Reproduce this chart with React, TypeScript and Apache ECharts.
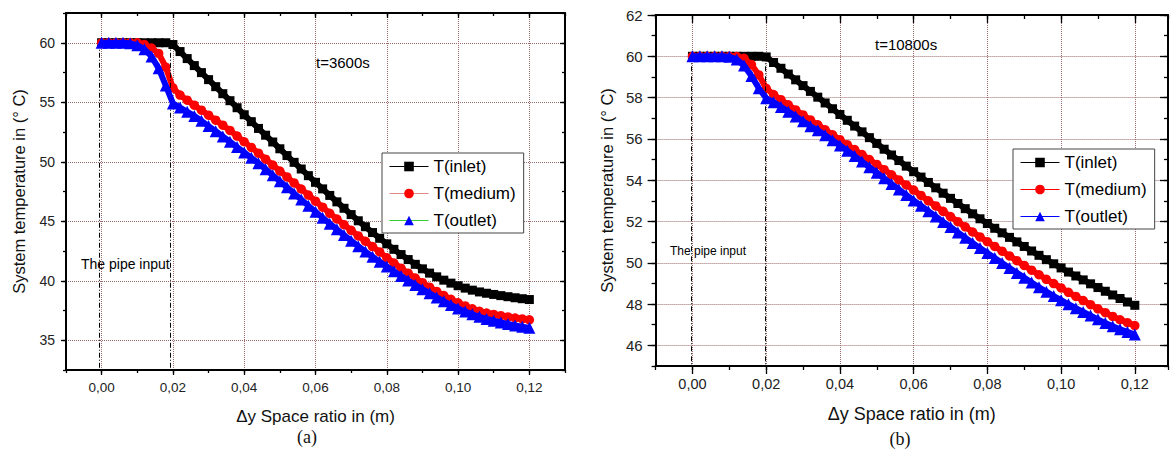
import React, { useEffect, useRef } from 'react';
import * as echarts from 'echarts';

// ---------- data ----------
const X = [0, 0.002, 0.004, 0.006, 0.008, 0.01, 0.012, 0.014, 0.016, 0.018, 0.02, 0.022, 0.024, 0.026, 0.028, 0.03, 0.032, 0.034, 0.036, 0.038, 0.04, 0.042, 0.044, 0.046, 0.048, 0.05, 0.052, 0.054, 0.056, 0.058, 0.06, 0.062, 0.064, 0.066, 0.068, 0.07, 0.072, 0.074, 0.076, 0.078, 0.08, 0.082, 0.084, 0.086, 0.088, 0.09, 0.092, 0.094, 0.096, 0.098, 0.1, 0.102, 0.104, 0.106, 0.108, 0.11, 0.112, 0.114, 0.116, 0.118, 0.12];

// (a) t = 3600 s
const INLET_A = [60, 60, 60, 60, 60, 60, 60, 60, 60, 60, 59.85, 59.26, 58.67, 58.08, 57.49, 56.9, 56.31, 55.72, 55.13, 54.54, 53.95, 53.37, 52.8, 52.23, 51.66, 51.09, 50.52, 49.95, 49.39, 48.83, 48.27, 47.72, 47.17, 46.63, 46.09, 45.56, 45.04, 44.54, 44.05, 43.57, 43.1, 42.64, 42.2, 41.78, 41.38, 41.0, 40.64, 40.33, 40.05, 39.8, 39.58, 39.38, 39.21, 39.06, 38.95, 38.85, 38.75, 38.66, 38.57, 38.49, 38.42];
const MEDIUM_A = [60, 60, 60, 60, 60, 60, 59.85, 59.55, 59.1, 57.95, 56.2, 55.6, 55.17, 54.75, 54.33, 53.91, 53.49, 53.07, 52.63, 52.16, 51.68, 51.2, 50.72, 50.22, 49.72, 49.22, 48.72, 48.22, 47.71, 47.2, 46.69, 46.18, 45.67, 45.19, 44.71, 44.24, 43.77, 43.32, 42.87, 42.42, 41.93, 41.49, 41.06, 40.64, 40.23, 39.84, 39.46, 39.1, 38.76, 38.44, 38.15, 37.88, 37.64, 37.43, 37.29, 37.17, 37.06, 36.96, 36.87, 36.79, 36.72];
const OUTLET_A = [60, 60, 60, 60, 59.95, 59.8, 59.45, 58.85, 57.85, 56.4, 54.9, 54.55, 54.2, 53.85, 53.44, 53.0, 52.56, 52.12, 51.68, 51.23, 50.78, 50.33, 49.88, 49.38, 48.87, 48.36, 47.85, 47.34, 46.82, 46.31, 45.8, 45.29, 44.8, 44.32, 43.84, 43.37, 42.9, 42.45, 42.02, 41.6, 41.19, 40.79, 40.4, 40.02, 39.65, 39.29, 38.95, 38.6, 38.27, 37.96, 37.67, 37.41, 37.18, 36.97, 36.79, 36.64, 36.5, 36.37, 36.25, 36.14, 36.04];

// (b) t = 10800 s
const INLET_B = [60, 60, 60, 60, 60, 60, 60, 60, 60, 60, 59.97, 59.7, 59.42, 59.14, 58.86, 58.58, 58.3, 58.02, 57.74, 57.46, 57.18, 56.9, 56.62, 56.34, 56.06, 55.78, 55.5, 55.22, 54.95, 54.68, 54.41, 54.15, 53.89, 53.63, 53.37, 53.12, 52.87, 52.62, 52.37, 52.13, 51.9, 51.67, 51.45, 51.23, 51.01, 50.79, 50.57, 50.36, 50.15, 49.95, 49.75, 49.55, 49.36, 49.17, 48.98, 48.8, 48.62, 48.44, 48.27, 48.1, 47.94];
const MEDIUM_B = [60, 60, 60, 60, 60, 60, 59.99, 59.9, 59.6, 59.1, 58.45, 58.15, 57.9, 57.65, 57.4, 57.16, 56.92, 56.68, 56.44, 56.2, 55.96, 55.72, 55.48, 55.24, 55.0, 54.76, 54.51, 54.26, 54.01, 53.77, 53.52, 53.26, 53.0, 52.75, 52.49, 52.24, 51.99, 51.74, 51.49, 51.25, 51.02, 50.79, 50.56, 50.33, 50.1, 49.87, 49.64, 49.42, 49.2, 48.99, 48.78, 48.57, 48.37, 48.17, 47.97, 47.77, 47.58, 47.4, 47.24, 47.1, 46.96];
const OUTLET_B = [60, 60, 60, 60, 60, 59.98, 59.85, 59.55, 59.05, 58.45, 57.97, 57.78, 57.55, 57.32, 57.09, 56.85, 56.61, 56.42, 56.18, 55.93, 55.68, 55.43, 55.17, 54.9, 54.63, 54.36, 54.09, 53.82, 53.55, 53.28, 53.02, 52.76, 52.5, 52.24, 51.98, 51.73, 51.47, 51.21, 50.96, 50.71, 50.47, 50.23, 49.99, 49.75, 49.51, 49.28, 49.04, 48.81, 48.6, 48.39, 48.19, 47.99, 47.8, 47.62, 47.44, 47.26, 47.08, 46.92, 46.78, 46.65, 46.52];

const SERIES_NAMES = ['T(inlet)', 'T(medium)', 'T(outlet)'];
const X_MAJOR = [0, 0.02, 0.04, 0.06, 0.08, 0.1, 0.12];
const Y_MAJOR_A = [35, 40, 45, 50, 55, 60];
const Y_MAJOR_B = [46, 48, 50, 52, 54, 56, 58, 60, 62];
const PIPE_MARKS_A = [-0.0008, 0.0193];
const PIPE_MARKS_B = [-0.0004, 0.0197];
const X_TITLE = '\u0394y Space ratio in (m)';
const Y_TITLE = 'System temperature in (\u00b0 C)';

// ---------- styles / layout ----------
const SANS = "'Liberation Sans', Arial, sans-serif";
const SERIF = "'Liberation Serif', 'Times New Roman', serif";
const MARKER_COLORS = ['#000000', '#ff0000', '#0000ff'];
const SYMBOLS = ['rect', 'circle', 'triangle'];
const SYMBOL_SIZES = [9, 9.5, 12];
const GRID_COLOR = '#9a6a6a';

const PANEL_A = {
  series: [INLET_A, MEDIUM_A, OUTLET_A],
  legendLines: ['#000000', '#e08a8a', '#33cc33'],
  yMajor: Y_MAJOR_A,
  pipeMarks: PIPE_MARKS_A,
  xMin: -0.01, xMax: 0.13, yMin: 32.5, yMax: 62.5, yMinor: 2.5,
  grid: { left: 66, top: 13, width: 499, height: 357 },
  xLabelSize: 13.5, yLabelSize: 14, xTitleSize: 17, yTitleSize: 16.5,
  xLabelMargin: 10, xNameGap: 38, yLabelMargin: 11, yNameGap: 39,
  majorLen: 5, minorLen: 3,
  legend: { left: 382, top: 153 },
  legendFont: 17,
  tLabel: { text: 't=3600s', x: 316, y: 63, size: 15 },
  pipe: { text: 'The pipe input', x: 81, y: 265, size: 14 },
  caption: { text: '(a)', x: 307, y: 437 },
};

const PANEL_B = {
  series: [INLET_B, MEDIUM_B, OUTLET_B],
  legendLines: ['#000000', '#ff0000', '#0000ff'],
  yMajor: Y_MAJOR_B,
  pipeMarks: PIPE_MARKS_B,
  xMin: -0.01, xMax: 0.129, yMin: 45, yMax: 62, yMinor: 1,
  grid: { left: 57, top: 15, width: 521, height: 351 },
  xLabelSize: 14.5, yLabelSize: 15, xTitleSize: 18, yTitleSize: 16.5,
  xLabelMargin: 10, xNameGap: 39, yLabelMargin: 13, yNameGap: 40,
  majorLen: 8, minorLen: 4,
  legend: { left: 423, top: 149 },
  legendFont: 17,
  tLabel: { text: 't=10800s', x: 285, y: 45, size: 15 },
  pipe: { text: 'The pipe input', x: 80, y: 252, size: 12 },
  caption: { text: '(b)', x: 310, y: 439 },
};

const fmtX = (v: number) => v.toFixed(2).replace('.', ',');

function buildOption(p: any) {
  const black = { color: '#000', width: 1.3 };
  const xBase = { type: 'value', gridIndex: 0, min: p.xMin, max: p.xMax, interval: 0.01 };
  const yBase = { type: 'value', gridIndex: 0, min: p.yMin, max: p.yMax, interval: p.yMinor };
  const noLabel = { show: false };
  const noSplit = { show: false };
  const splitStyle = { show: true, lineStyle: { color: GRID_COLOR, type: 'dotted', width: 1 } };

  const xAxis = [
    {
      ...xBase, position: 'bottom',
      axisLine: { show: true, onZero: false, lineStyle: { color: '#000', width: 2 } },
      axisTick: { show: true, inside: false, length: p.minorLen, lineStyle: black },
      axisLabel: { show: true, customValues: X_MAJOR, formatter: fmtX, margin: p.xLabelMargin, fontSize: p.xLabelSize, color: '#222', fontFamily: SANS },
      splitLine: noSplit,
      name: X_TITLE, nameLocation: 'middle', nameGap: p.xNameGap,
      nameTextStyle: { fontSize: p.xTitleSize, color: '#111', fontFamily: SANS },
    },
    {
      ...xBase, position: 'bottom',
      axisLine: { show: false, onZero: false },
      axisTick: { show: true, inside: false, length: p.majorLen, customValues: X_MAJOR, lineStyle: black },
      axisLabel: noLabel, splitLine: splitStyle,
    },
    {
      ...xBase, position: 'top',
      axisLine: { show: true, onZero: false, lineStyle: { color: '#000', width: 2 } },
      axisTick: { show: true, inside: true, length: p.minorLen, lineStyle: black },
      axisLabel: noLabel, splitLine: noSplit,
    },
    {
      ...xBase, position: 'top',
      axisLine: { show: false, onZero: false },
      axisTick: { show: true, inside: true, length: p.majorLen, customValues: X_MAJOR, lineStyle: black },
      axisLabel: noLabel, splitLine: noSplit,
    },
  ];

  const yAxis = [
    {
      ...yBase, position: 'left',
      axisLine: { show: true, onZero: false, lineStyle: { color: '#000', width: 2 } },
      axisTick: { show: true, inside: false, length: p.minorLen, lineStyle: black },
      axisLabel: { show: true, customValues: p.yMajor, margin: p.yLabelMargin, fontSize: p.yLabelSize, color: '#222', fontFamily: SANS },
      splitLine: noSplit,
      name: Y_TITLE, nameLocation: 'middle', nameGap: p.yNameGap, nameRotate: 90,
      nameTextStyle: { fontSize: p.yTitleSize, color: '#111', fontFamily: SANS },
    },
    {
      ...yBase, position: 'left',
      axisLine: { show: false, onZero: false },
      axisTick: { show: true, inside: false, length: p.majorLen, customValues: p.yMajor, lineStyle: black },
      axisLabel: noLabel, splitLine: splitStyle,
    },
    {
      ...yBase, position: 'right',
      axisLine: { show: true, onZero: false, lineStyle: { color: '#000', width: 2 } },
      axisTick: { show: true, inside: true, length: p.minorLen, lineStyle: black },
      axisLabel: noLabel, splitLine: noSplit,
    },
    {
      ...yBase, position: 'right',
      axisLine: { show: false, onZero: false },
      axisTick: { show: true, inside: true, length: p.majorLen, customValues: p.yMajor, lineStyle: black },
      axisLabel: noLabel, splitLine: noSplit,
    },
  ];

  const series = p.series.map((vals: number[], i: number) => ({
    name: SERIES_NAMES[i],
    type: 'line',
    xAxisIndex: 0,
    yAxisIndex: 0,
    data: X.map((x, k) => [x, vals[k]]),
    symbol: SYMBOLS[i],
    symbolSize: SYMBOL_SIZES[i],
    showAllSymbol: true,
    lineStyle: { color: MARKER_COLORS[i], width: 6 },
    itemStyle: { color: MARKER_COLORS[i] },
    emphasis: { disabled: true },
    z: 3 + i,
    markLine: i === 0 ? {
      silent: true,
      symbol: ['none', 'none'],
      label: { show: false },
      lineStyle: { color: '#000', width: 1, type: [5, 2, 1, 2] },
      emphasis: { disabled: true },
      data: p.pipeMarks.map((x: number) => [{ coord: [x, 60] }, { coord: [x, p.yMin] }]),
    } : undefined,
  }));

  return {
    animation: false,
    backgroundColor: '#fff',
    grid: { ...p.grid, containLabel: false },
    xAxis,
    yAxis,
    legend: {
      show: true,
      orient: 'vertical',
      left: p.legend.left,
      top: p.legend.top,
      itemWidth: 39,
      itemHeight: 12,
      itemGap: 10,
      padding: [5, 8, 4, 7],
      borderColor: '#444',
      borderWidth: 1,
      backgroundColor: '#fff',
      selectedMode: false,
      textStyle: { fontSize: p.legendFont, color: '#000', fontFamily: SANS },
      data: SERIES_NAMES.map((n, i) => ({
        name: n,
        lineStyle: { color: p.legendLines[i], width: 1 },
        itemStyle: { color: MARKER_COLORS[i] },
      })),
    },
    graphic: [
      { type: 'text', left: p.tLabel.x, top: p.tLabel.y - p.tLabel.size / 2 - 1, style: { text: p.tLabel.text, fontSize: p.tLabel.size, fontFamily: SANS, fill: '#000' } },
      { type: 'text', left: p.pipe.x, top: p.pipe.y - p.pipe.size / 2 - 1, style: { text: p.pipe.text, fontSize: p.pipe.size, fontFamily: SANS, fill: '#000' } },
      { type: 'text', x: p.caption.x, y: p.caption.y, style: { text: p.caption.text, fontSize: 18, fontFamily: SERIF, fill: '#111', align: 'center', verticalAlign: 'middle' } },
    ],
    series,
  };
}

export default function App() {
  const refA = useRef<HTMLDivElement>(null);
  const refB = useRef<HTMLDivElement>(null);
  useEffect(() => {
    const a = echarts.init(refA.current as HTMLDivElement, null, { renderer: 'svg' });
    const b = echarts.init(refB.current as HTMLDivElement, null, { renderer: 'svg' });
    a.setOption(buildOption(PANEL_A) as any);
    b.setOption(buildOption(PANEL_B) as any);
    return () => {
      a.dispose();
      b.dispose();
    };
  }, []);
  return (
    <div style={{ position: 'absolute', left: 0, top: 0, width: 1171, height: 450, background: '#fff', overflow: 'hidden' }}>
      <div ref={refA} style={{ position: 'absolute', left: 0, top: 0, width: 590, height: 450 }} />
      <div ref={refB} style={{ position: 'absolute', left: 590, top: 0, width: 581, height: 450 }} />
    </div>
  );
}
